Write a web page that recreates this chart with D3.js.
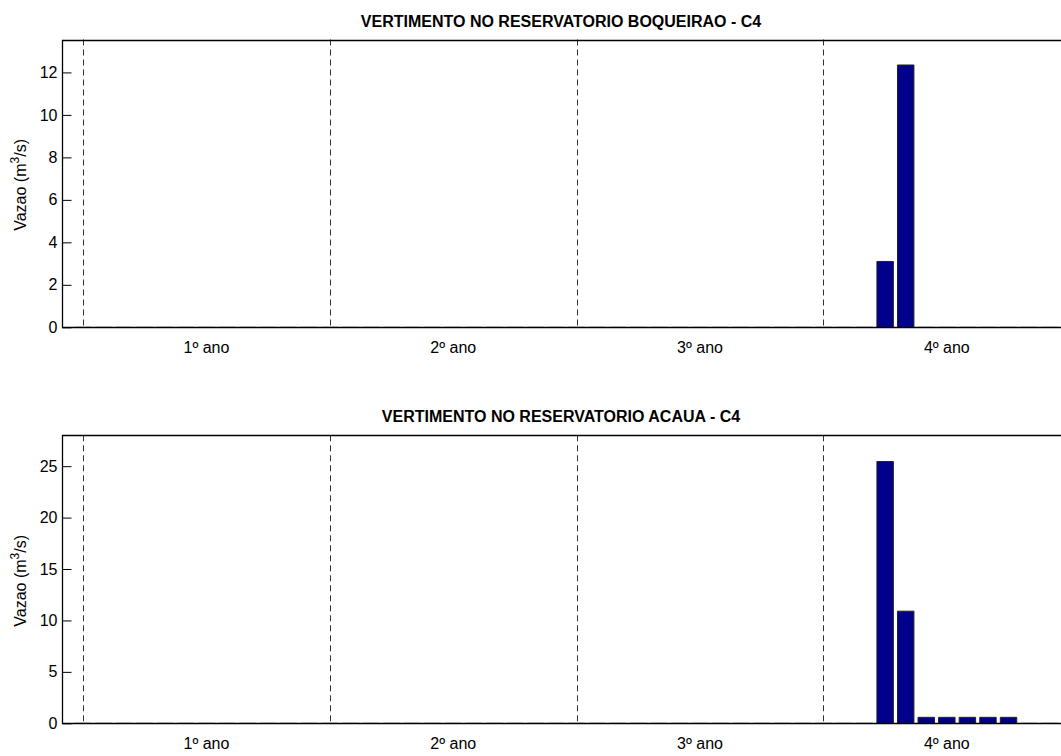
<!DOCTYPE html>
<html>
<head>
<meta charset="utf-8">
<script src="https://cdn.jsdelivr.net/npm/d3@7"></script>
<style>
  html, body { margin: 0; padding: 0; background: #fff; }
  svg { display: block; font-family: "Liberation Sans", Arial, Helvetica, sans-serif; }
</style>
</head>
<body>
<svg id="chart" width="1061" height="756"></svg>
<script>
// ---- data ----
const months = [1,2,3,4,5,6,7,8,9,10,11,12,13,14,15,16,17,18,19,20,21,22,23,24,
                25,26,27,28,29,30,31,32,33,34,35,36,37,38,39,40,41,42,43,44,45,46,47,48];
const boqueirao = [0,0,0,0,0,0,0,0,0,0,0,0,
                   0,0,0,0,0,0,0,0,0,0,0,0,
                   0,0,0,0,0,0,0,0,0,0,0,0,
                   0,0,0,3.1,12.35,0,0,0,0,0,0,0];
const acaua = [0,0,0,0,0,0,0,0,0,0,0,0,
               0,0,0,0,0,0,0,0,0,0,0,0,
               0,0,0,0,0,0,0,0,0,0,0,0,
               0,0,0,25.45,10.9,0.58,0.58,0.58,0.58,0.58,0,0];
const yearLabels = ["1º ano", "2º ano", "3º ano", "4º ano"];
const yearLabelPos = [7, 19, 31, 43];
const yearStarts = [1, 13, 25, 37];
const topTicks = [0, 2, 4, 6, 8, 10, 12];
const bottomTicks = [0, 5, 10, 15, 20, 25];
const topYMax = 13.55;
const bottomYMax = 28;
const titles = ["VERTIMENTO NO RESERVATORIO BOQUEIRAO - C4", "VERTIMENTO NO RESERVATORIO ACAUA - C4"];

// ---- drawing ----
const svg = d3.select("#chart");
const left = 62.5, right = 1062;
const x = d3.scaleLinear().domain([0, 48.6]).range([left, right]);
const barW = 0.8;
const FS = 16;

function panel(cfg) {
  const y = d3.scaleLinear().domain([0, cfg.yMax]).range([cfg.bottom, cfg.top]);
  const g = svg.append("g");

  // dashed year separators
  g.selectAll("line.sep").data(yearStarts).enter().append("line")
    .attr("x1", d => Math.round(x(d)) + 0.5).attr("x2", d => Math.round(x(d)) + 0.5)
    .attr("y1", cfg.top).attr("y2", cfg.bottom)
    .attr("stroke", "#333").attr("stroke-width", 1).attr("stroke-dasharray", "6,4");

  // bars (zero-height ones render as a line)
  g.selectAll("path.bar").data(months.map((m, i) => ({m, v: cfg.values[i]}))).enter().append("path")
    .attr("d", d => {
      const x0 = x(d.m - barW / 2), x1 = x(d.m + barW / 2);
      const y0 = y(0), y1 = y(d.v);
      return `M${x0},${y0}V${y1}H${x1}V${y0}Z`;
    })
    .attr("fill", "#00008C")
    .attr("stroke", d => d.v > 0 ? "#222" : "#999")
    .attr("stroke-width", 1);

  // y axis (ticks inward)
  const yAxis = d3.axisLeft(y).tickValues(cfg.ticks).tickSize(-9).tickPadding(5).tickFormat(d3.format("d"));
  const ya = g.append("g").attr("transform", `translate(${left},0)`).call(yAxis);
  ya.select(".domain").remove();
  ya.selectAll(".tick line").attr("stroke", "#000");
  ya.selectAll(".tick text").attr("font-size", FS).attr("fill", "#000")
    .attr("font-family", "Liberation Sans, Arial, sans-serif");

  // frame (top, left, bottom)
  g.append("path")
    .attr("d", `M${right},${Math.round(cfg.top)+0.5}H${left}V${Math.round(cfg.bottom)+0.5}H${right}`)
    .attr("fill", "none").attr("stroke", "#000").attr("stroke-width", 1.3);

  // x labels
  g.selectAll("text.yr").data(yearLabels).enter().append("text")
    .attr("x", (d, i) => x(yearLabelPos[i]))
    .attr("y", cfg.bottom + 26)
    .attr("text-anchor", "middle").attr("font-size", FS).attr("fill", "#000")
    .text(d => d);

  // title
  g.append("text")
    .attr("x", 561).attr("y", cfg.top - 13)
    .attr("text-anchor", "middle").attr("font-size", FS).attr("font-weight", "bold")
    .text(cfg.title);

  // y label
  const yl = g.append("text")
    .attr("transform", `translate(25.5,${(cfg.top + cfg.bottom) / 2 + 1.5}) rotate(-90)`)
    .attr("text-anchor", "middle").attr("font-size", FS).attr("fill", "#000");
  yl.append("tspan").text("Vazao (m");
  yl.append("tspan").attr("baseline-shift", "super").attr("font-size", 12).text("3");
  yl.append("tspan").text("/s)");
}

panel({top: 39.5, bottom: 327.3, yMax: topYMax, values: boqueirao, ticks: topTicks, title: titles[0]});
panel({top: 435.3, bottom: 723.3, yMax: bottomYMax, values: acaua, ticks: bottomTicks, title: titles[1]});
</script>
</body>
</html>
